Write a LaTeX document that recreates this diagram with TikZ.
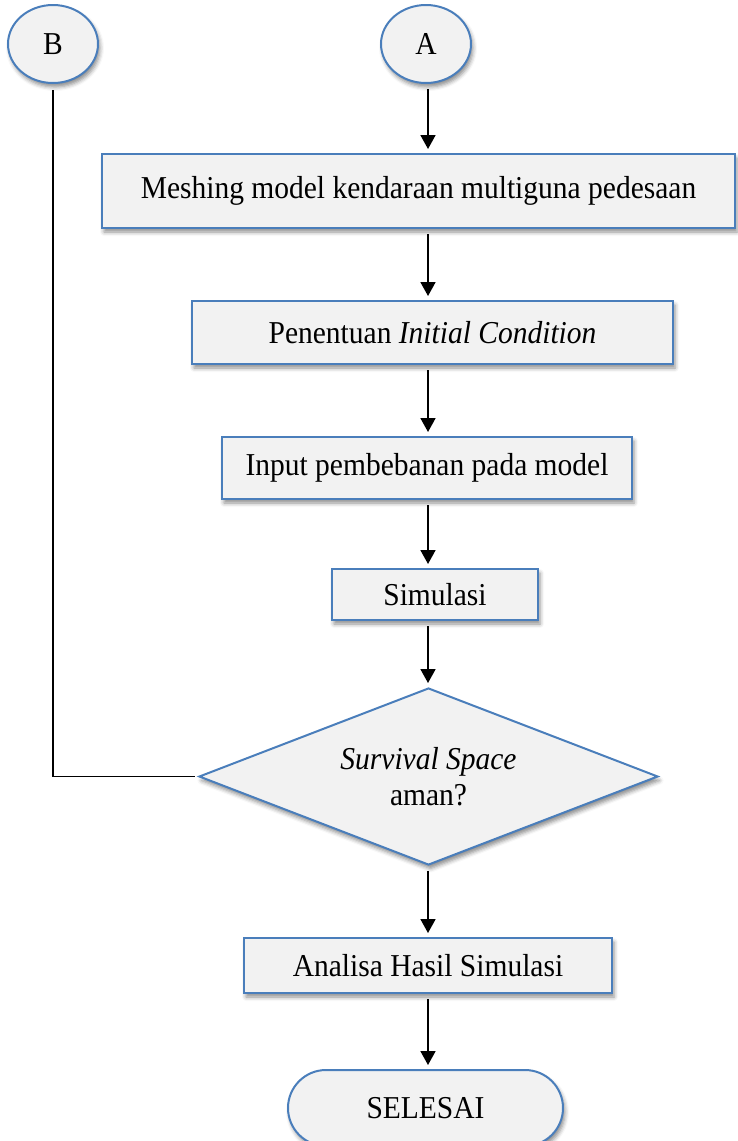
\documentclass[tikz,border=0pt]{standalone}
\usepackage{fontspec}
\setmainfont{Liberation Serif}
\usetikzlibrary{arrows.meta,shapes.geometric,shapes.misc,shadows.blur}
\definecolor{bordercol}{RGB}{74,126,187}
\definecolor{fillcol}{RGB}{242,242,242}
\newcommand{\stretchtx}[1]{\scalebox{1}[1.08]{#1}}
\begin{document}
\begin{tikzpicture}[x=1pt,y=-1pt,
  every node/.style={font=\fontsize{29.5}{36.5}\selectfont, inner sep=0pt, align=center},
  sh/.style={blur shadow={shadow xshift=2pt,shadow yshift=-4pt,shadow blur radius=4pt,shadow opacity=45}},
  base/.style={draw=bordercol, line width=2pt, fill=fillcol, sh},
  procbox/.style={base, rectangle},
  conn/.style={base, ellipse, minimum width=90pt, minimum height=78pt},
  decision/.style={base, diamond, aspect=2.6},
  terminal/.style={base, rounded rectangle, minimum width=275pt, minimum height=76pt},
  arr/.style={line width=1.8pt, -{Triangle[width=15pt,length=14pt]}, shorten <=5pt, shorten >=4pt},
  fb/.style={line width=1.8pt}]
\useasboundingbox (0,0) rectangle (737,1141);
\coordinate (axis) at (428,0);

\node[conn] (B) at (53,44) {\stretchtx{B}};
\node[conn] (A) at (426,44) {\stretchtx{A}};
\node[procbox, minimum width=633pt, minimum height=74pt] (m1) at (418.5,191) {\stretchtx{Meshing model kendaraan multiguna pedesaan}};
\node[procbox, minimum width=481pt, minimum height=63pt] (m2) at (432.5,332.5) {\stretchtx{Penentuan \textit{Initial Condition}}};
\node[procbox, minimum width=410pt, minimum height=62pt] (m3) at (427,468) {\stretchtx{Input pembebanan pada model}};
\node[procbox, minimum width=206pt, minimum height=51pt] (m4) at (435,594.5) {\stretchtx{Simulasi}};
\node[decision, minimum width=459pt, minimum height=177pt] (d) at (428.5,776.5) {\stretchtx{\textit{Survival Space}}\\\stretchtx{aman?}};
\node[procbox, minimum width=368pt, minimum height=55pt] (m5) at (428,965.5) {\stretchtx{Analisa Hasil Simulasi}};
\node[terminal] (e) at (425.5,1108) {\stretchtx{SELESAI}};

\draw[arr] (A.south -| axis) -- (m1.north -| axis);
\draw[arr] (m1.south -| axis) -- (m2.north -| axis);
\draw[arr] (m2.south -| axis) -- (m3.north -| axis);
\draw[arr] (m3.south -| axis) -- (m4.north -| axis);
\draw[arr] (m4.south -| axis) -- (d.north -| axis);
\draw[arr] (d.south -| axis) -- (m5.north -| axis);
\draw[arr] (m5.south -| axis) -- (e.north -| axis);
\draw[fb, shorten <=6pt, shorten >=3pt] (B.south) |- (d.west);
\end{tikzpicture}
\end{document}
